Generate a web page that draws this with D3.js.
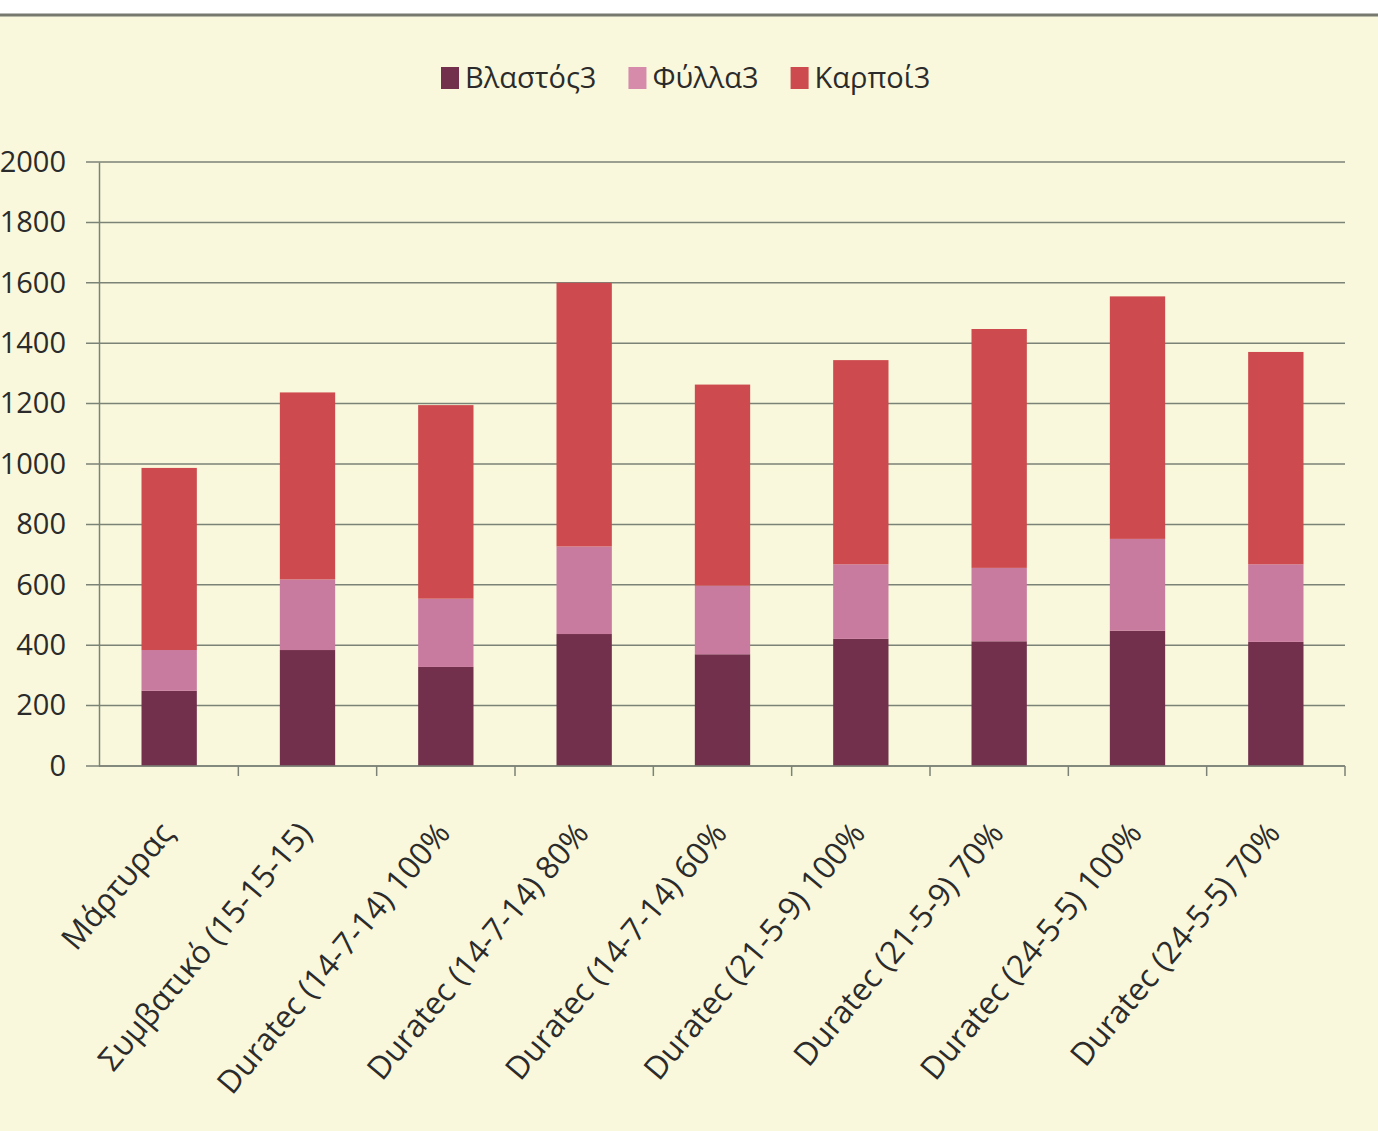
<!DOCTYPE html>
<html>
<head>
<meta charset="utf-8">
<script src="https://cdn.jsdelivr.net/npm/d3@7"></script>
<style>
  html, body { margin: 0; padding: 0; background: #ffffff; }
  svg { display: block; }
  text { font-family: "Open Sans", "Noto Sans", sans-serif; fill: #2b2b2b; }
</style>
</head>
<body>
<div id="chart"></div>
<script>
  /* ---- data ---- */
  let categories = [
    "Μάρτυρας",
    "Συμβατικό (15-15-15)",
    "Duratec (14-7-14) 100%",
    "Duratec (14-7-14) 80%",
    "Duratec (14-7-14) 60%",
    "Duratec (21-5-9) 100%",
    "Duratec (21-5-9) 70%",
    "Duratec (24-5-5) 100%",
    "Duratec (24-5-5) 70%"
  ]
  let seriesNames = ["Βλαστός3", "Φύλλα3", "Καρποί3"]
  let stem   = [249, 384, 328, 437, 370, 421, 413, 448, 411]
  let leaves = [135, 234, 226, 290, 227, 247, 243, 304, 257]
  let fruits = [603, 619, 641, 873, 666, 676, 791, 803, 703]
  let yTicks = [0, 200, 400, 600, 800, 1000, 1200, 1400, 1600, 1800, 2000]

  /* ---- layout ---- */
  let w = 1378
  let h = 1131
  let colors = ["#73304d", "#c97a9f", "#cd4b4e"]
  let legendColors = ["#73304d", "#d68bab", "#cd4b4e"]
  let gridColor = "#7b8276"

  let svg = d3.select("#chart").append("svg")
      .attr("width", w)
      .attr("height", h)

  // paper background + top edge
  svg.append("rect").attr("x", 0).attr("y", 14).attr("width", w).attr("height", h - 14).attr("fill", "#f9f8dc")
  svg.append("line").attr("x1", 0).attr("x2", w).attr("y1", 15).attr("y2", 15)
      .attr("stroke", "#77796f").attr("stroke-width", 3)

  let x = d3.scaleBand()
      .domain(categories)
      .range([100, 1345])
      .paddingInner(0.6)
      .paddingOuter(0.3)

  let y = d3.scaleLinear()
      .domain([0, 2000])
      .range([766, 162])

  // gridlines
  svg.append("g")
      .selectAll("line")
      .data(yTicks)
      .join("line")
      .attr("x1", 86)
      .attr("x2", 1345)
      .attr("y1", d => y(d))
      .attr("y2", d => y(d))
      .attr("stroke", gridColor)
      .attr("stroke-width", 1.5)

  // stacked bars
  let rows = categories.map((c, i) => ({ cat: c, s0: stem[i], s1: leaves[i], s2: fruits[i] }))
  let stack = d3.stack().keys(["s0", "s1", "s2"])(rows)

  svg.append("g")
      .selectAll("g")
      .data(stack)
      .join("g")
      .attr("fill", (d, i) => colors[i])
      .selectAll("rect")
      .data(d => d)
      .join("rect")
      .attr("x", d => x(d.data.cat))
      .attr("width", x.bandwidth())
      .attr("y", d => y(d[1]))
      .attr("height", d => y(d[0]) - y(d[1]))

  // y axis
  let yAxis = svg.append("g")
      .attr("transform", "translate(99,0)")
      .call(d3.axisLeft(y).tickValues(yTicks).tickFormat(d3.format("d")).tickSize(0).tickPadding(33))
  yAxis.select(".domain").attr("stroke", gridColor).attr("stroke-width", 1.5)
  yAxis.selectAll("text").attr("font-size", 29).attr("fill", "#2b2b2b")

  // x axis
  svg.append("line")
      .attr("x1", 99).attr("x2", 1345)
      .attr("y1", y(0)).attr("y2", y(0))
      .attr("stroke", gridColor).attr("stroke-width", 1.5)
  svg.append("g")
      .selectAll("line")
      .data(d3.range(1, categories.length + 1))
      .join("line")
      .attr("x1", i => 100 + i * (1245 / categories.length))
      .attr("x2", i => 100 + i * (1245 / categories.length))
      .attr("y1", y(0))
      .attr("y2", y(0) + 10)
      .attr("stroke", gridColor)
      .attr("stroke-width", 1.5)

  svg.append("g")
      .selectAll("text")
      .data(categories)
      .join("text")
      .attr("text-anchor", "end")
      .attr("font-size", 31.5)
      .attr("transform", d => "translate(" + (x(d) + x.bandwidth() / 2 + 6) + "," + (y(0) + 68) + ") rotate(-50)")
      .text(d => d)

  // legend
  let legend = svg.append("g").attr("transform", "translate(441,77)")
  let lx = 0
  seriesNames.forEach(function (name, i) {
    legend.append("rect")
        .attr("x", lx).attr("y", -10)
        .attr("width", 18).attr("height", 22)
        .attr("fill", legendColors[i])
    let t = legend.append("text")
        .attr("x", lx + 24).attr("y", 11)
        .attr("font-size", 29)
        .text(name)
    lx += 24 + t.node().getComputedTextLength() + 32
  })
</script>
</body>
</html>
